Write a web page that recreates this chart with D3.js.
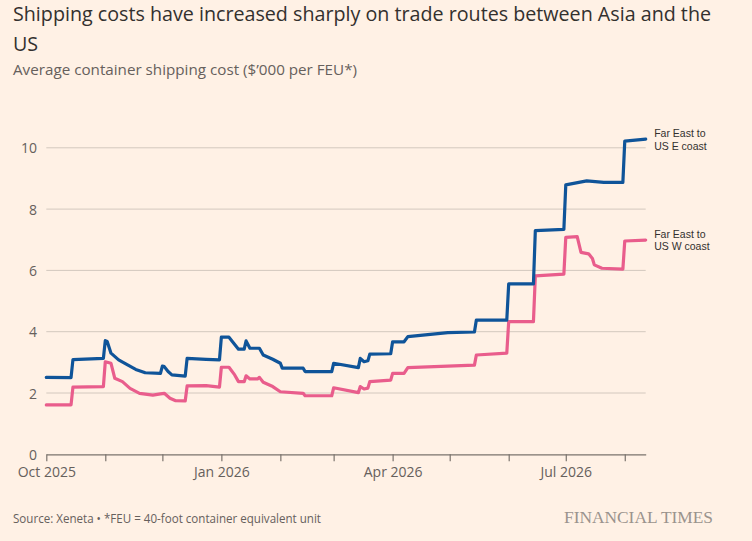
<!DOCTYPE html>
<html>
<head>
<meta charset="utf-8">
<script src="https://cdn.jsdelivr.net/npm/d3@7"></script>
<style>
  html, body { margin: 0; padding: 0; background: #fff1e5; }
  svg { display: block; font-family: "Open Sans", "Noto Sans", sans-serif; }
</style>
</head>
<body>
<svg id="chart" width="752" height="541"></svg>
<script>
// ---------- DATA ----------
const titleLines = ["Shipping costs have increased sharply on trade routes between Asia and the", "US"];
const subtitle = "Average container shipping cost ($\u2019000 per FEU*)";
const source = "Source: Xeneta \u2022 *FEU = 40-foot container equivalent unit";
const brand = "FINANCIAL TIMES";

const eastDates = ["2025-10-01","2025-10-14","2025-10-15","2025-10-31","2025-11-01","2025-11-02","2025-11-04","2025-11-08","2025-11-12","2025-11-17","2025-11-22","2025-11-30","2025-12-01","2025-12-02","2025-12-04","2025-12-06","2025-12-13","2025-12-14","2025-12-24","2025-12-31","2026-01-01","2026-01-05","2026-01-10","2026-01-13","2026-01-14","2026-01-16","2026-01-21","2026-01-23","2026-01-28","2026-02-01","2026-02-02","2026-02-13","2026-02-14","2026-02-28","2026-03-01","2026-03-14","2026-03-15","2026-03-17","2026-03-19","2026-03-20","2026-03-31","2026-04-01","2026-04-07","2026-04-09","2026-04-30","2026-05-14","2026-05-15","2026-05-31","2026-06-01","2026-06-14","2026-06-15","2026-06-30","2026-07-01","2026-07-12","2026-07-21","2026-07-31","2026-08-01","2026-08-12"];
const eastValues = [2.51,2.50,3.09,3.13,3.71,3.68,3.30,3.08,2.94,2.77,2.66,2.64,2.88,2.86,2.70,2.59,2.55,3.13,3.10,3.08,3.82,3.82,3.43,3.43,3.70,3.46,3.46,3.24,3.10,2.97,2.81,2.81,2.70,2.70,2.97,2.83,3.13,3.02,3.05,3.27,3.28,3.67,3.67,3.84,3.97,3.99,4.38,4.38,5.56,5.56,7.30,7.34,8.79,8.92,8.87,8.87,10.22,10.28];

const westDates = ["2025-10-01","2025-10-14","2025-10-15","2025-10-31","2025-11-01","2025-11-04","2025-11-06","2025-11-10","2025-11-14","2025-11-19","2025-11-26","2025-11-30","2025-12-02","2025-12-05","2025-12-08","2025-12-13","2025-12-14","2025-12-24","2025-12-31","2026-01-01","2026-01-05","2026-01-08","2026-01-10","2026-01-13","2026-01-14","2026-01-16","2026-01-20","2026-01-21","2026-01-23","2026-01-28","2026-02-01","2026-02-13","2026-02-14","2026-02-28","2026-03-01","2026-03-14","2026-03-15","2026-03-17","2026-03-19","2026-03-20","2026-03-31","2026-04-01","2026-04-07","2026-04-09","2026-05-14","2026-05-15","2026-05-31","2026-06-01","2026-06-14","2026-06-15","2026-06-30","2026-07-01","2026-07-07","2026-07-09","2026-07-13","2026-07-15","2026-07-16","2026-07-20","2026-07-31","2026-08-01","2026-08-12"];
const westValues = [1.61,1.61,2.19,2.21,3.02,2.97,2.48,2.37,2.15,1.99,1.93,1.97,1.99,1.83,1.75,1.74,2.23,2.24,2.19,2.84,2.84,2.59,2.37,2.37,2.56,2.46,2.46,2.51,2.35,2.21,2.04,1.99,1.91,1.91,2.17,2.01,2.21,2.13,2.16,2.37,2.42,2.64,2.64,2.83,2.91,3.24,3.30,4.33,4.33,5.82,5.88,7.08,7.10,6.59,6.54,6.39,6.18,6.07,6.04,6.96,6.99];

const seriesLabels = [["Far East to","US E coast"],["Far East to","US W coast"]];
const seriesColors = ["#0f5499","#e95d8c"];

const yTicks = [0,2,4,6,8,10];
const xLabelDates = ["2025-10-01","2026-01-01","2026-04-01","2026-07-01"];
const xLabels = ["Oct 2025","Jan 2026","Apr 2026","Jul 2026"];
const xDomain = ["2025-10-01","2026-08-12"];

// ---------- LAYOUT ----------
const W = 752, H = 541;
const plot = { left: 46.3, right: 645.7, bottom: 454.3, top: 147.8 };
const parse = d3.utcParse("%Y-%m-%d");

const svg = d3.select("#chart");
svg.append("rect").attr("width", W).attr("height", H).attr("fill", "#fff1e5");

const x = d3.scaleUtc().domain(xDomain.map(parse)).range([plot.left, plot.right]);
const y = d3.scaleLinear().domain([0, 10]).range([plot.bottom, plot.top]);

function fit(sel, target) {
  const n = sel.node();
  const w = n.getComputedTextLength();
  sel.attr("textLength", target).attr("lengthAdjust", "spacingAndGlyphs");
  return target / w;
}

// Title
const t1 = svg.append("text").attr("x", 13).attr("y", 21).attr("font-size", 20)
  .attr("fill", "#33302e").text(titleLines[0]);
const ratio = fit(t1, 698);
const t2 = svg.append("text").attr("x", 13).attr("y", 50.5).attr("font-size", 20)
  .attr("fill", "#33302e").text(titleLines[1]);
fit(t2, t2.node().getComputedTextLength() * ratio);

const st = svg.append("text").attr("x", 13).attr("y", 75).attr("font-size", 15)
  .attr("fill", "#66605c").text(subtitle);
fit(st, 344);

// Gridlines
const grid = svg.append("g");
grid.selectAll("line").data(yTicks.filter(d => d > 0)).join("line")
  .attr("x1", plot.left).attr("x2", plot.right)
  .attr("y1", d => y(d)).attr("y2", d => y(d))
  .attr("stroke", "#d3c8be").attr("stroke-width", 1);

// Y labels
svg.append("g").selectAll("text").data(yTicks).join("text")
  .attr("x", 37).attr("y", d => y(d) + 5.5)
  .attr("text-anchor", "end").attr("font-size", 14).attr("fill", "#66605c")
  .text(d => d);

// X axis
const monthTicks = d3.utcMonth.range(parse(xDomain[0]), parse(xDomain[1]));
const labelMap = new Map(xLabelDates.map((d, i) => [+parse(d), xLabels[i]]));
const xAxis = d3.axisBottom(x).tickValues(monthTicks).tickSize(7).tickSizeOuter(0).tickPadding(6)
  .tickFormat(d => labelMap.get(+d) || "");
const gx = svg.append("g").attr("transform", `translate(0,${plot.bottom})`).call(xAxis);
gx.select(".domain").attr("stroke", "#7a736d").attr("stroke-width", 1.2);
gx.selectAll(".tick line").attr("stroke", "#7a736d").attr("stroke-width", 1.2);
gx.selectAll(".tick text").attr("font-size", 14).attr("fill", "#66605c")
  .attr("font-family", "\"Open Sans\", \"Noto Sans\", sans-serif");

// Lines
const line = d3.line().x(d => x(d.date)).y(d => y(d.value)).curve(d3.curveLinear);
const series = [
  eastDates.map((d, i) => ({ date: parse(d), value: eastValues[i] })),
  westDates.map((d, i) => ({ date: parse(d), value: westValues[i] }))
];
// draw west first, east on top
[1, 0].forEach(k => {
  svg.append("path").datum(series[k]).attr("d", line)
    .attr("fill", "none").attr("stroke", seriesColors[k]).attr("stroke-width", 3.2)
    .attr("stroke-linejoin", "round").attr("stroke-linecap", "round");
});

// Series labels
series.forEach((s, k) => {
  const last = s[s.length - 1];
  const ly = y(last.value);
  const lx = x(last.date) + 8.5;
  seriesLabels[k].forEach((txt, j) => {
    svg.append("text").attr("x", lx).attr("y", ly - 2 + j * 12.4)
      .attr("font-family", "\"Liberation Sans\", Arial, sans-serif")
      .attr("font-size", 10.5).attr("fill", "#33302e").text(txt);
  });
});

// Footer
const src = svg.append("text").attr("x", 13).attr("y", 522.5).attr("font-size", 12)
  .attr("fill", "#66605c").text(source);
fit(src, 308);
const ft = svg.append("text").attr("x", 564).attr("y", 523).attr("font-size", 17)
  .attr("font-family", "\"Liberation Serif\", \"DejaVu Serif\", serif")
  .attr("fill", "#9a938d").text(brand);
fit(ft, 149);
</script>
</body>
</html>
